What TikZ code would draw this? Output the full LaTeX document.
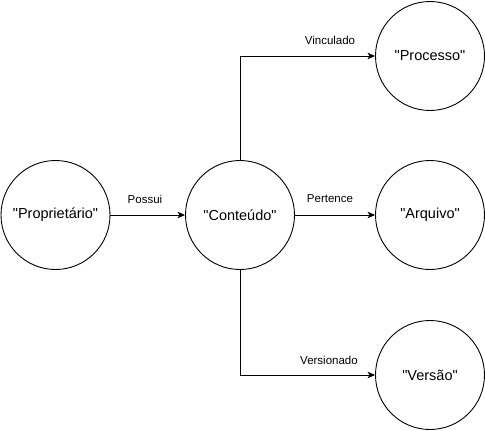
\documentclass[tikz,border=0pt]{standalone}
\usepackage{fontspec}
\newfontfamily\hv{Liberation Sans}
\usetikzlibrary{arrows.meta}
\begin{document}
\begin{tikzpicture}[x=1pt,y=-1pt,
  ent/.style={circle,draw,line width=0.9pt,minimum size=109pt,inner sep=0pt,font=\hv\fontsize{14.5}{17}\selectfont},
  conn/.style={line width=0.9pt,-{Stealth[length=7.5pt,width=6.5pt,inset=2pt]}},
  lbl/.style={font=\hv\fontsize{11.5}{14}\selectfont,inner sep=0pt}]
\useasboundingbox (0,0) rectangle (485,431);
\node[ent] (prop) at (55.5,215) {"Proprietário"};
\node[ent] (cont) at (240,215) {"Conteúdo"};
\node[ent] (proc) at (430,56) {"Processo"};
\node[ent] (arq) at (430,215) {"Arquivo"};
\node[ent] (ver) at (430,375) {"Versão"};
\draw[conn] (prop) -- (cont);
\draw[conn] (cont.north) |- (proc.west);
\draw[conn] (cont) -- (arq);
\draw[conn] (cont.south) |- (ver.west);
\node[lbl] (l1) at (145,199) {Possui};
\node[lbl] (l2) at (330,40) {Vinculado};
\node[lbl] (l3) at (330,199) {Pertence};
\node[lbl] (l4) at (329,360) {Versionado};
\end{tikzpicture}
\end{document}
